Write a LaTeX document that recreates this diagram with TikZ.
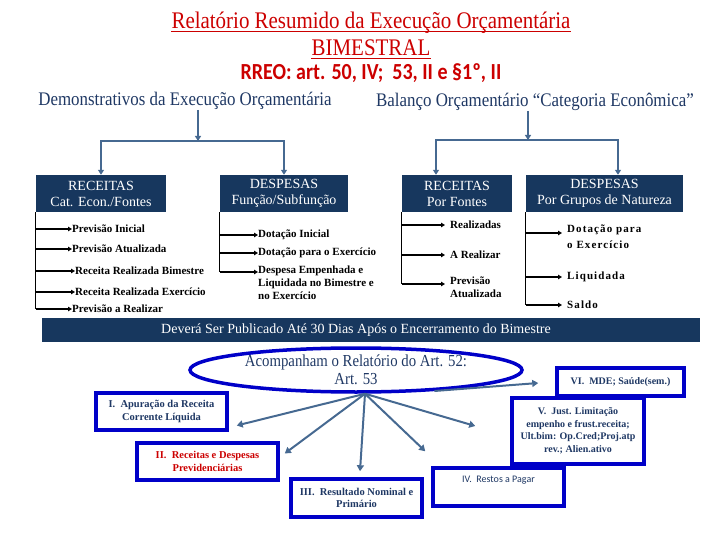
\documentclass[tikz,border=0pt]{standalone}
\usepackage{fontspec}
\setmainfont{Liberation Serif}
\newfontfamily\calib{Carlito}
\newfontfamily\tallserif{Liberation Serif}[FakeStretch=0.88]
\newfontfamily\tallcalib{Carlito}[FakeStretch=0.87]
\usetikzlibrary{arrows.meta,shapes.geometric,positioning}
\definecolor{titred}{RGB}{204,0,0}
\definecolor{navy}{RGB}{23,55,94}
\definecolor{navytxt}{RGB}{31,56,100}
\definecolor{steel}{RGB}{70,105,145}
\definecolor{bluebd}{RGB}{0,0,200}

\begin{document}
\begin{tikzpicture}[x=1pt,y=-1pt,every node/.style={inner sep=0pt},
  titulo/.style={font=\tallserif\fontsize{23.8}{26}\selectfont,text=titred},
  subl/.style={draw=titred,line width=1pt},
  cab/.style={font=\tallserif\fontsize{19.2}{22}\selectfont,text=navytxt},
  navybox/.style={fill=navy,text=white,minimum height=37,align=center,font=\fontsize{14}{16}\selectfont},
  item/.style={anchor=west,align=left,font=\fontsize{11}{13}\selectfont\bfseries},
  gitem/.style={item,inner xsep=5pt,font=\fontsize{11}{16}\selectfont\bfseries\addfontfeature{LetterSpace=10}},
  org/.style={draw=steel,line width=1.8pt,-{Triangle[length=5pt,width=6pt]}},
  spine/.style={line width=1.2pt},
  tip/.style={line width=1.2pt,-{Triangle[length=4pt,width=4.5pt]}},
  bluebox/.style={draw=bluebd,line width=3.5pt,fill=white,align=center,text=navytxt,font=\fontsize{10.5}{12.5}\selectfont\bfseries},
  ray/.style={draw=steel,line width=2pt,-{Triangle[length=6pt,width=7pt]}}]
\useasboundingbox (0,0) rectangle (720,540);

% titulo
\node[titulo] (tit) at (371,23) {Relatório Resumido da Execução Orçamentária};
\node[titulo] (bim) at (371,48) {BIMESTRAL};
\draw[subl] ([yshift=-2.5pt]tit.base west) -- ([yshift=-2.5pt]tit.base east);
\draw[subl] ([yshift=-2.5pt]bim.base west) -- ([yshift=-2.5pt]bim.base east);
\node[font=\tallcalib\bfseries\fontsize{23}{25}\selectfont,text=titred] (rreo) at (371,73) {RREO: art. 50, IV;~ 53, II e §1º, II};
\node[cab] (dem) at (185,101) {Demonstrativos da Execução Orçamentária};
\node[cab] (bal) at (535,102) {Balanço Orçamentário “Categoria Econômica”};

% caixas escuras
\node[navybox,minimum width=130] (rc) at (101,193.5) {RECEITAS\\Cat. Econ./Fontes};
\node[navybox,minimum width=128] (df) at (284,193.5) {DESPESAS\\Função/Subfunção};
\node[navybox,minimum width=110] (rf) at (457,193.5) {RECEITAS\\Por Fontes};
\node[navybox,minimum width=157] (dg) at (604.5,193.5) {DESPESAS\\Por Grupos de Natureza};

\coordinate (jl) at (198,141);
\coordinate (jr) at (528,140);
\draw[org] (jl |- dem.south) -- (jl);
\draw[org] (jl) -| (rc.north);
\draw[org] (jl) -| (df.north);
\draw[org] (jr |- bal.south) -- (jr);
\draw[org] (jr) -| ([xshift=-21pt]rf.north);
\draw[org] (jr) -| ([xshift=13.5pt]dg.north);

% receitas
\node[item] (p1) at (72,229) {Previsão Inicial};
\node[item] (p2) at (72,249) {Previsão Atualizada};
\node[item] (p3) at (75,271) {Receita Realizada Bimestre};
\node[item] (p4) at (75,292) {Receita Realizada Exercício};
\node[item] (p5) at (72,309) {Previsão a Realizar};
\draw[spine] (rc.south west) -- (rc.south west |- p5.west);
\foreach \i in {1,...,5}
  \draw[tip] (rc.south west |- p\i.west) -- (p\i.west);

% despesas
\node[item] (d1) at (258,235) {Dotação Inicial};
\node[item] (d2) at (258,253) {Dotação para o Exercício};
\node[item,anchor=north west] (d3) at (258,266) {Despesa Empenhada e\\Liquidada no Bimestre e\\no Exercício};
\coordinate (d3a) at ([yshift=-6pt]d3.north west);
\draw[spine] (df.south west) -- (df.south west |- d3a);
\draw[tip] (df.south west |- d1.west) -- (d1.west);
\draw[tip] (df.south west |- d2.west) -- (d2.west);
\draw[tip] (df.south west |- d3a) -- (d3a);

% receitas por fontes
\node[item,inner xsep=5pt] (r1) at (445,225) {Realizadas};
\node[item,inner xsep=5pt] (r2) at (445,255) {A Realizar};
\node[item,inner xsep=5pt,anchor=north west] (r3) at (445,277) {Previsão\\Atualizada};
\coordinate (r3a) at ([yshift=-7pt]r3.north west);
\draw[spine] (rf.south west) -- (rf.south west |- r3a);
\draw[tip] (rf.south west |- r1.west) -- (r1.west);
\draw[tip] (rf.south west |- r2.west) -- (r2.west);
\draw[tip] (rf.south west |- r3a) -- (r3a);

% despesas por grupos
\node[gitem,anchor=north west] (g1) at (562,225) {Dotação para\\o Exercício};
\node[gitem] (g2) at (562,277) {Liquidada};
\node[gitem] (g3) at (562,305) {Saldo};
\coordinate (g1a) at ([yshift=-8pt]g1.north west);
\draw[spine] (dg.south west) -- (dg.south west |- g3.west);
\draw[tip] (dg.south west |- g1a) -- (g1a);
\draw[tip] (dg.south west |- g2.west) -- (g2.west);
\draw[tip] (dg.south west |- g3.west) -- (g3.west);

% faixa
\node[fill=navy,minimum width=658,minimum height=24] (band) at (371,330) {};
\node[text=white,font=\fontsize{14}{16}\selectfont] (bandtxt) at (356,330) {Deverá Ser Publicado Até 30 Dias Após o Encerramento do Bimestre};

% anexos
\node[ellipse,draw=bluebd,line width=3.5pt,minimum width=332,minimum height=44,align=center,text=navytxt,font=\tallserif\fontsize{16.8}{18}\selectfont] (ell) at (356,370) {Acompanham o Relatório do Art. 52:\\Art. 53};
\coordinate (hub) at ([xshift=9pt]ell.south);

\node[bluebox,minimum width=131,minimum height=37] (bI) at (161.5,411.5) {I.~~Apuração da Receita\\Corrente Líquida};
\node[bluebox,minimum width=141,minimum height=37,text=titred] (bII) at (207.5,461.5) {II.~~Receitas e Despesas\\Previdenciárias};
\node[bluebox,minimum width=131,minimum height=38] (bIII) at (356.5,498) {III.~~Resultado Nominal e\\Primário};
\node[bluebox,minimum width=131,minimum height=38,font=\calib\fontsize{10}{16}\selectfont] (bIV) at (498.5,487) {IV.~~Restos a Pagar\\\mbox{}};
\node[bluebox,minimum width=132,minimum height=66,font=\fontsize{10}{12.5}\selectfont\bfseries] (bV) at (578,431) {V.~~Just. Limitação\\empenho e frust.receita;\\Ult.bim: Op.Cred;Proj.atp\\rev.; Alien.ativo};
\node[bluebox,minimum width=127,minimum height=28,font=\fontsize{10}{12}\selectfont\bfseries] (bVI) at (620.5,382) {VI.~~MDE; Saúde(sem.)};

\draw[ray] (hub) -- ([shift={(8,14)}]bI.east);
\draw[ray] (hub) -- ([shift={(5,-8)}]bII.east);
\draw[ray] (hub) -- ([shift={(3.5,-6)}]bIII.north);
\draw[ray] (hub) -- ([shift={(-6,-15)}]bIV.north west);
\draw[ray] (hub) -- ([shift={(-35,-5)}]bV.west);
\draw[ray] (ell.-15) -- ([shift={(-17,1)}]bVI.west);
\end{tikzpicture}
\end{document}
